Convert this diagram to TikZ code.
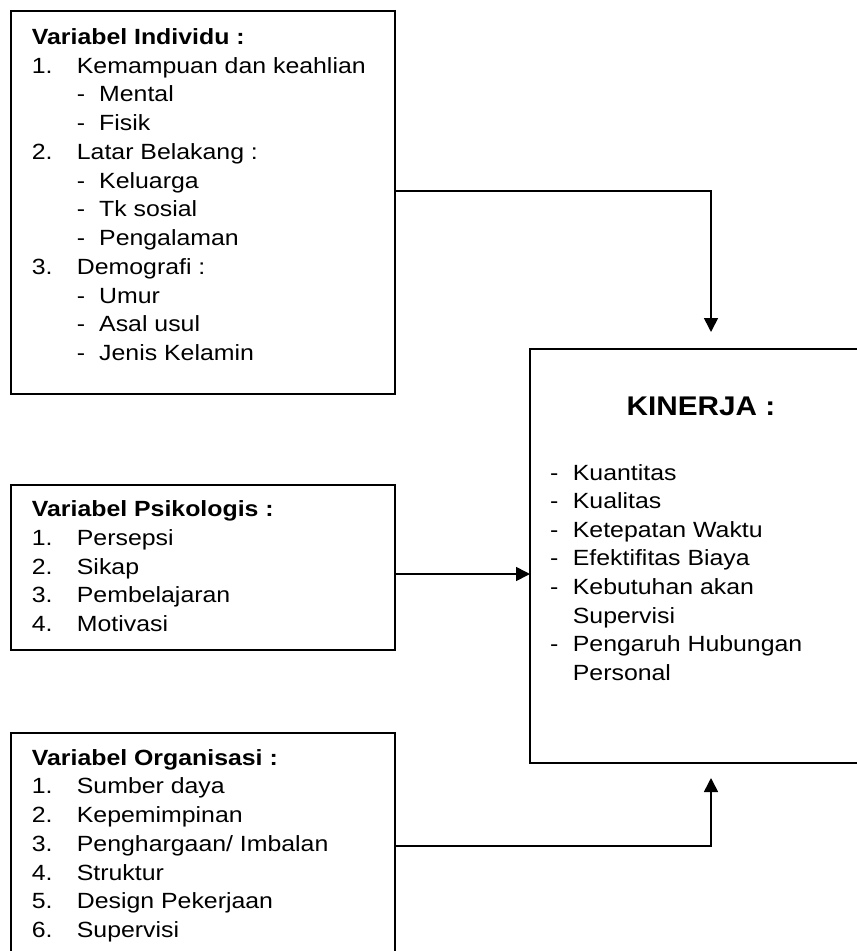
\documentclass[tikz,border=0pt]{standalone}
\usepackage{fontspec}
\setmainfont{Liberation Sans}[FakeStretch=1.13]
\newfontfamily\kinfont{Liberation Sans}[FakeStretch=1.1]
\usetikzlibrary{arrows.meta}
\begin{document}
\begin{tikzpicture}[x=1pt,y=-1pt,
  box/.style={draw, line width=1.6pt, inner sep=0pt, outer sep=0pt, anchor=north west},
  arr/.style={line width=1.6pt, -{Triangle[length=14pt,width=14pt]}},
  txt/.style={anchor=base west, inner sep=0pt, font=\fontsize{22}{25}\selectfont},
  ttl/.style={txt, font=\fontsize{22}{25}\selectfont\bfseries}]
\useasboundingbox (0,0) rectangle (857,951);
\clip (0,0) rectangle (857,951);
% boxes
\node[box, minimum width=384pt, minimum height=383pt] (ind) at (11,11) {};
\node[box, minimum width=384pt, minimum height=165pt] (psi) at (11,485) {};
\node[box, minimum width=384pt, minimum height=240pt] (org) at (11,733) {};
\node[box, minimum width=360pt, minimum height=414pt] (kin) at (530,349) {};
% box 1 text
\node[ttl] (i0) at (31.7,44.3) {Variabel Individu :};
\node[txt] (i1n) at (31.7,73.05) {1.};   \node[txt] (i1) at (76.7,73.05) {Kemampuan dan keahlian};
\node[txt] (i2d) at (76.7,101.8) {-};    \node[txt] (i2) at (99,101.8) {Mental};
\node[txt] (i3d) at (76.7,130.55) {-};   \node[txt] (i3) at (99,130.55) {Fisik};
\node[txt] (i4n) at (31.7,159.3) {2.};   \node[txt] (i4) at (76.7,159.3) {Latar Belakang :};
\node[txt] (i5d) at (76.7,188.05) {-};   \node[txt] (i5) at (99,188.05) {Keluarga};
\node[txt] (i6d) at (76.7,216.8) {-};    \node[txt] (i6) at (99,216.8) {Tk sosial};
\node[txt] (i7d) at (76.7,245.55) {-};   \node[txt] (i7) at (99,245.55) {Pengalaman};
\node[txt] (i8n) at (31.7,274.3) {3.};   \node[txt] (i8) at (76.7,274.3) {Demografi :};
\node[txt] (i9d) at (76.7,303.05) {-};   \node[txt] (i9) at (99,303.05) {Umur};
\node[txt] (i10d) at (76.7,331.8) {-};   \node[txt] (i10) at (99,331.8) {Asal usul};
\node[txt] (i11d) at (76.7,360.55) {-};  \node[txt] (i11) at (99,360.55) {Jenis Kelamin};
% box 2 text
\node[ttl] (p0) at (31.7,516.7) {Variabel Psikologis :};
\node[txt] (p1n) at (31.7,545.4) {1.};  \node[txt] (p1) at (76.7,545.4) {Persepsi};
\node[txt] (p2n) at (31.7,574.1) {2.};  \node[txt] (p2) at (76.7,574.1) {Sikap};
\node[txt] (p3n) at (31.7,602.8) {3.};  \node[txt] (p3) at (76.7,602.8) {Pembelajaran};
\node[txt] (p4n) at (31.7,631.5) {4.};  \node[txt] (p4) at (76.7,631.5) {Motivasi};
% box 3 text
\node[ttl] (o0) at (31.7,765) {Variabel Organisasi :};
\node[txt] (o1n) at (31.7,793.75) {1.}; \node[txt] (o1) at (76.7,793.75) {Sumber daya};
\node[txt] (o2n) at (31.7,822.5) {2.};  \node[txt] (o2) at (76.7,822.5) {Kepemimpinan};
\node[txt] (o3n) at (31.7,851.25) {3.}; \node[txt] (o3) at (76.7,851.25) {Penghargaan/ Imbalan};
\node[txt] (o4n) at (31.7,880) {4.};    \node[txt] (o4) at (76.7,880) {Struktur};
\node[txt] (o5n) at (31.7,908.75) {5.}; \node[txt] (o5) at (76.7,908.75) {Design Pekerjaan};
\node[txt] (o6n) at (31.7,937.5) {6.};  \node[txt] (o6) at (76.7,937.5) {Supervisi};
% kinerja text
\node[anchor=base west, inner sep=0pt, font=\kinfont\fontsize{27}{30}\selectfont\bfseries] (k0) at (626.5,415) {KINERJA :};
\node[txt] (k1d) at (550,480) {-};    \node[txt] (k1) at (572.7,480) {Kuantitas};
\node[txt] (k2d) at (550,508.6) {-};  \node[txt] (k2) at (572.7,508.6) {Kualitas};
\node[txt] (k3d) at (550,537.2) {-};  \node[txt] (k3) at (572.7,537.2) {Ketepatan Waktu};
\node[txt] (k4d) at (550,565.8) {-};  \node[txt] (k4) at (572.7,565.8) {Efektifitas Biaya};
\node[txt] (k5d) at (550,594.4) {-};  \node[txt] (k5) at (572.7,594.4) {Kebutuhan akan};
\node[txt] (k6) at (572.7,623) {Supervisi};
\node[txt] (k7d) at (550,651.6) {-};  \node[txt] (k7) at (572.7,651.6) {Pengaruh Hubungan};
\node[txt] (k8) at (572.7,680.2) {Personal};
% connectors
\coordinate (a1) at (711,332);
\coordinate (a3) at (711,778);
\draw[arr] ([yshift=11.5pt]ind.east) -| (a1);
\draw[arr] ([yshift=-6.5pt]psi.east) -- ([yshift=-6.5pt]psi.east -| kin.west);
\draw[arr] ([yshift=7pt]org.east) -| (a3);
\end{tikzpicture}
\end{document}
